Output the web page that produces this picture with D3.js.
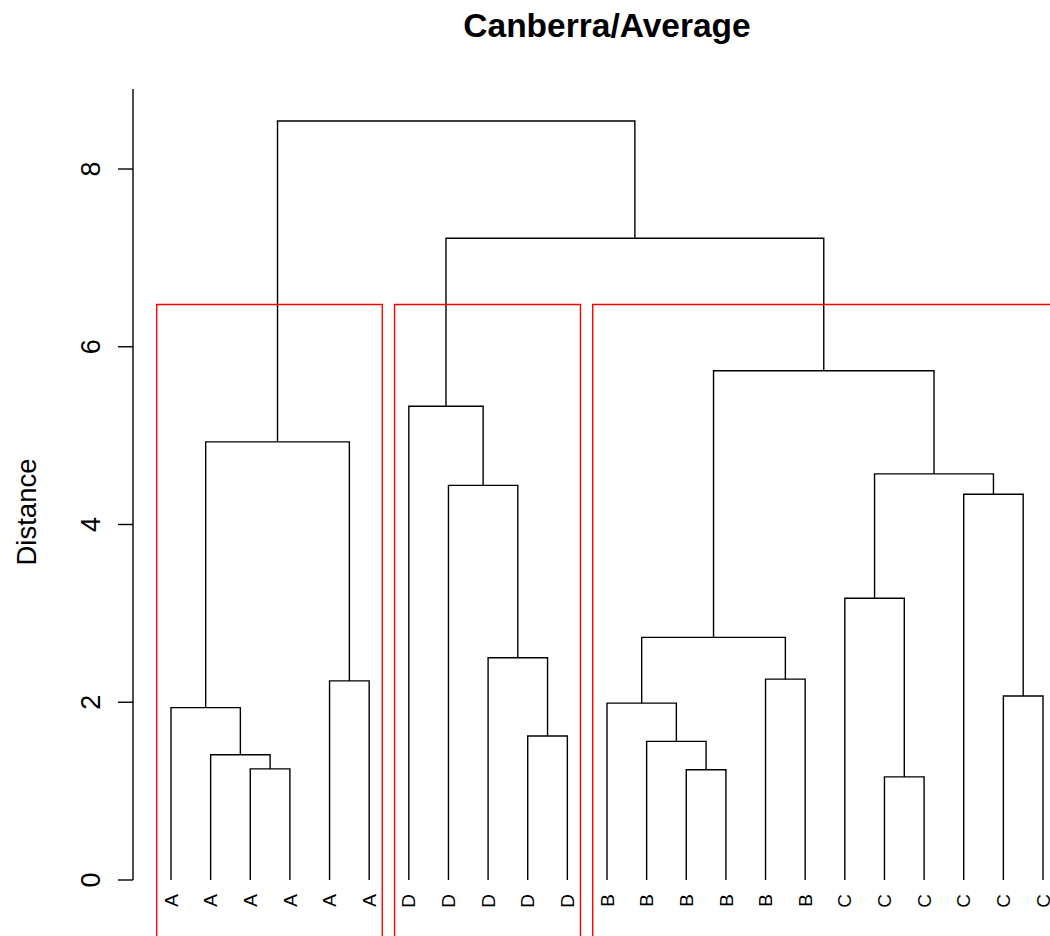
<!DOCTYPE html>
<html>
<head>
<meta charset="utf-8">
<script src="https://cdn.jsdelivr.net/npm/d3@7"></script>
<style>
  body { margin: 0; background: #fff; }
  text { font-family: "Liberation Sans", Arial, Helvetica, sans-serif; fill: #000; }
</style>
</head>
<body>
<svg id="chart" width="1050" height="936"></svg>
<script>
// leaf labels in plotted order (left to right)
var leafLabels = ["A", "A", "A", "A", "A", "A",
                  "D", "D", "D", "D", "D",
                  "B", "B", "B", "B", "B", "B",
                  "C", "C", "C", "C", "C", "C"];

// R style merge table: negative = leaf (plot position), positive = earlier merge
var mergeLeft  = [-19, -14, -3, -2, -13, -10, -1, -12, -22, -5, -16, -9, 8, -18, -21, -8, 14, 7, -7, 13, 19, 18];
var mergeRight = [-20, -15, -4,  3,   2, -11,  4,   5, -23, -6, -17,  6, 11,  1,   9, 12, 15, 10, 16, 17, 20, 21];
var heights    = [1.16, 1.24, 1.25, 1.41, 1.56, 1.62, 1.94, 1.99, 2.07, 2.24, 2.26, 2.50,
                  2.73, 3.17, 4.34, 4.44, 4.57, 4.93, 5.33, 5.73, 7.22, 8.54];

var yTicks = [0, 2, 4, 6, 8];
var axisTop = 8.9;
var nClusters = 3;
var title = "Canberra/Average";
var yTitle = "Distance";

var svg = d3.select("#chart");
var n = leafLabels.length;

var x = d3.scaleLinear().domain([1, n]).range([171, 1043]);
var y = d3.scaleLinear().domain([0, 8]).range([880, 169]);

// extended x range like R usr (4%) for title centering
var pad = (n - 1) * 0.04;
var plotLeft = x(1 - pad), plotRight = x(n + pad);

// compute merge node positions
var nodeX = [], nodeLeaves = [];
function childInfo(id) {
    if (id < 0) return { x: x(-id), h: 0, lo: -id, hi: -id };
    var k = id - 1;
    return { x: nodeX[k], h: heights[k], lo: nodeLeaves[k][0], hi: nodeLeaves[k][1] };
}

var g = svg.append("g");
mergeLeft.forEach(function(l, i) {
    var a = childInfo(l), b = childInfo(mergeRight[i]);
    var h = heights[i];
    nodeX[i] = (a.x + b.x) / 2;
    nodeLeaves[i] = [Math.min(a.lo, b.lo), Math.max(a.hi, b.hi)];
    var d = "M" + a.x + "," + y(a.h) + "V" + y(h) + "H" + b.x + "V" + y(b.h);
    g.append("path")
        .attr("d", d)
        .attr("fill", "none")
        .attr("stroke", "#000")
        .attr("stroke-width", 1.4);
});

// leaf labels
svg.selectAll(".leafLabel")
    .data(leafLabels)
    .enter()
    .append("text")
    .attr("class", "leafLabel")
    .attr("text-anchor", "end")
    .attr("dy", "0.35em")
    .style("font-size", "19px")
    .attr("transform", function(d, i) { return "translate(" + x(i + 1) + "," + 894 + ") rotate(-90)"; })
    .text(function(d) { return d; });

// cluster rectangles (rect.hclust)
var m = heights.length;
var topMerges = d3.range(m - nClusters + 1, m); // indices of the last k-1 merges
var roots = [];
topMerges.forEach(function(k) {
    [mergeLeft[k], mergeRight[k]].forEach(function(c) {
        if (c < 0 || topMerges.indexOf(c - 1) < 0) roots.push(c);
    });
});
var rectTop = (heights[m - nClusters] + heights[m - nClusters + 1]) / 2;
roots.map(childInfo)
    .sort(function(a, b) { return a.lo - b.lo; })
    .forEach(function(c) {
        var x0 = x(c.lo - 0.36), x1 = x(c.hi + 0.33);
        svg.append("path")
            .attr("d", "M" + x0 + "," + y(-0.7) + "V" + y(rectTop) + "H" + x1 + "V" + y(-0.7))
            .attr("fill", "none")
            .attr("stroke", "#ff0000")
            .attr("stroke-width", 1.4);
    });

// y axis
var axisX = 133;
svg.append("line")
    .attr("x1", axisX).attr("x2", axisX)
    .attr("y1", y(0)).attr("y2", y(axisTop))
    .attr("stroke", "#000").attr("stroke-width", 1.4);
svg.selectAll(".tick")
    .data(yTicks)
    .enter()
    .append("line")
    .attr("class", "tick")
    .attr("x1", axisX - 15).attr("x2", axisX)
    .attr("y1", function(d) { return y(d); })
    .attr("y2", function(d) { return y(d); })
    .attr("stroke", "#000").attr("stroke-width", 1.4);
svg.selectAll(".tickLabel")
    .data(yTicks)
    .enter()
    .append("text")
    .attr("class", "tickLabel")
    .attr("text-anchor", "middle")
    .style("font-size", "27px")
    .attr("transform", function(d) { return "translate(100," + y(d) + ") rotate(-90)"; })
    .text(function(d) { return d; });

svg.append("text")
    .attr("text-anchor", "middle")
    .style("font-size", "27.5px")
    .attr("transform", "translate(36,512) rotate(-90)")
    .text(yTitle);

svg.append("text")
    .attr("x", (plotLeft + plotRight) / 2)
    .attr("y", 37)
    .attr("text-anchor", "middle")
    .style("font-size", "33.5px")
    .style("font-weight", "bold")
    .text(title);
</script>
</body>
</html>
